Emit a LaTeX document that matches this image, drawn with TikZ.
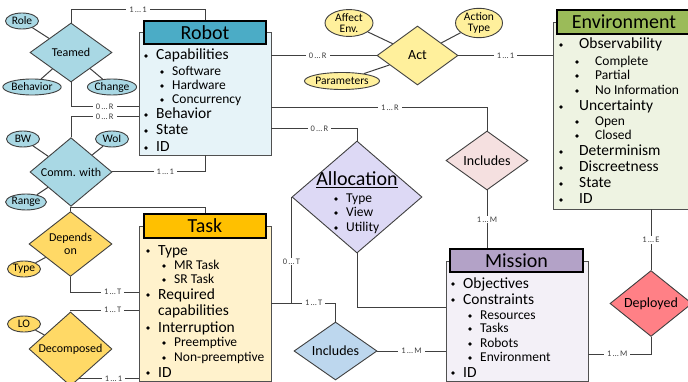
\documentclass[tikz,border=0pt]{standalone}
\usepackage{fontspec}
\setmainfont{Carlito}
\usetikzlibrary{shapes.geometric}
\definecolor{linec}{HTML}{404040}
\definecolor{bodyline}{HTML}{505050}
\definecolor{robT}{HTML}{4BACC6}
\definecolor{robB}{HTML}{E6F3F8}
\definecolor{aqua}{HTML}{A9D8E4}
\definecolor{taskT}{HTML}{FFC000}
\definecolor{taskB}{HTML}{FFF2CC}
\definecolor{gold}{HTML}{FFD966}
\definecolor{actc}{HTML}{FFF09C}
\definecolor{envT}{HTML}{9BBB59}
\definecolor{envB}{HTML}{EEF3E2}
\definecolor{allocc}{HTML}{DDD9F5}
\definecolor{pinkc}{HTML}{F5E0E0}
\definecolor{misT}{HTML}{B3A2C7}
\definecolor{misB}{HTML}{F3F0F7}
\definecolor{blueinc}{HTML}{BDD7EE}
\definecolor{deplc}{HTML}{FF8086}
\tikzset{
 conn/.style={draw=linec, line width=1pt},
 lbl/.style={fill=white, inner xsep=3pt, inner ysep=1pt, font=\fontsize{8.5}{9}\selectfont, text=linec},
 ebody/.style={draw=bodyline, line width=0.9pt, rectangle, inner sep=0},
 ettl/.style={draw=black, line width=1.6pt, rectangle, inner sep=0, font=\fontsize{20}{22}\selectfont},
 rel/.style={diamond, draw=linec, line width=0.9pt, inner sep=0, font=\fontsize{12}{13.5}\selectfont, align=center},
 relb/.style={rel, font=\fontsize{14}{15}\selectfont},
 attr/.style={ellipse, draw=linec, line width=0.9pt, inner sep=0, font=\fontsize{11.5}{12}\selectfont, align=center},
 mitem/.style={anchor=west, inner sep=0, text height=10pt, text depth=0pt, font=\fontsize{15.5}{16}\selectfont},
 sitem/.style={anchor=west, inner sep=0, text height=9pt, text depth=0pt, font=\fontsize{13.5}{14}\selectfont},
}
\newcommand\mylist[5]{% prefix, style, bullet x, text x, list
 \foreach \yy/\txt [count=\i] in {#5} {
   \fill (#3,\yy+1) circle (1.9pt);
   \node[#2] (#1\i) at (#4,\yy) {\txt};
 }}
\newcommand\card[2]{#1\,…\,#2}
\begin{document}
\begin{tikzpicture}[x=1pt,y=-1pt]
\clip (0,0) rectangle (688,382);
\fill[white] (0,0) rectangle (688,382);
% ---------- entities ----------
\node[ebody, fill=robB, minimum width=132pt, minimum height=123pt] (robotB) at (205,93.5) {};
\node[ettl, fill=robT, minimum width=122pt, minimum height=23pt] (robotT) at (205,32.5) {Robot};
\mylist{rm}{mitem}{146}{156}{55/Capabilities,114/Behavior,130/State,147/ID}
\mylist{rs}{sitem}{162}{172}{71/Software,85/Hardware,99/Concurrency}

\node[ebody, fill=taskB, minimum width=132pt, minimum height=155pt] (taskB) at (205,303.5) {};
\node[ettl, fill=taskT, minimum width=122pt, minimum height=24pt] (taskT) at (205,226) {Task};
\mylist{tm}{mitem}{148}{158}{250/Type,294/Required,327/Interruption,372/ID}
\node[mitem] (tcap) at (158,310) {capabilities};
\mylist{ts}{sitem}{164}{174}{265/MR Task,279/SR Task,342/Preemptive,357/Non-preemptive}

\node[ebody, fill=misB, minimum width=142pt, minimum height=120pt] (misB) at (517,321) {};
\node[ettl, fill=misT, minimum width=133pt, minimum height=23pt] (misT) at (516.5,260.5) {Mission};
\mylist{mm}{mitem}{453}{463}{283/Objectives,299/Constraints,372/ID}
\mylist{ms}{sitem}{470}{480}{315/Resources,328/Tasks,343/Robots,357/Environment}

\node[ebody, fill=envB, minimum width=142pt, minimum height=187pt] (envB) at (624,115.5) {};
\node[ettl, fill=envT, minimum width=134pt, minimum height=24pt] (envT) at (624,22) {Environment};
\mylist{em}{mitem}{561}{579}{44/Observability,106/Uncertainty,151/Determinism,167/Discreetness,183/State,199/ID}
\mylist{es}{sitem}{577}{595}{61/Complete,75/Partial,90/No Information,121/Open,135/Closed}

% ---------- relationships ----------
\node[rel, fill=aqua, minimum width=82pt, minimum height=59pt] (teamed) at (71,52.5) {Teamed};
\node[attr, fill=aqua, minimum width=33pt, minimum height=16pt] (role) at (22,21) {Role};
\node[attr, fill=aqua, minimum width=54pt, minimum height=16pt] (behav) at (32,87) {Behavior};
\node[attr, fill=aqua, minimum width=46pt, minimum height=16pt] (change) at (112,87) {Change};

\node[rel, fill=aqua, minimum width=82pt, minimum height=58pt] (comm) at (71,172) {Comm. with};
\node[attr, fill=aqua, minimum width=33pt, minimum height=16pt] (bw) at (23,139) {BW};
\node[attr, fill=aqua, minimum width=33pt, minimum height=16pt] (woi) at (112,139) {WoI};
\node[attr, fill=aqua, minimum width=40pt, minimum height=16pt] (range) at (26,202) {Range};

\node[rel, fill=gold, minimum width=83pt, minimum height=58pt] (depends) at (70.5,244) {Depends\\on};
\node[attr, fill=gold, minimum width=33pt, minimum height=16pt] (typeA) at (24,269) {Type};
\node[rel, fill=gold, minimum width=83pt, minimum height=58pt] (decomp) at (70.5,349) {Decomposed};
\node[attr, fill=gold, minimum width=33pt, minimum height=16pt] (lo) at (24,324) {LO};

\node[relb, fill=actc, minimum width=81pt, minimum height=59pt] (act) at (417.5,55.5) {Act};
\node[attr, fill=actc, minimum width=48pt, minimum height=26pt, font=\fontsize{11.5}{11}\selectfont] (affect) at (349,23) {Affect\\Env.};
\node[attr, fill=actc, minimum width=47pt, minimum height=26pt, font=\fontsize{11.5}{11}\selectfont] (actype) at (479,23) {Action\\Type};
\node[attr, fill=actc, minimum width=64pt, minimum height=17pt] (params) at (342,81) {Parameters};

\node[rel, fill=allocc, minimum width=130pt, minimum height=112pt] (alloc) at (357,197) {};
\node[inner sep=0, font=\fontsize{20}{22}\selectfont] (alloct) at (357,180) {\underline{Allocation}};
\mylist{am}{sitem}{336}{346}{198/Type,212/View,227/Utility}

\node[relb, fill=pinkc, minimum width=82pt, minimum height=59pt] (incP) at (487,160.5) {Includes};
\node[relb, fill=blueinc, minimum width=83pt, minimum height=58pt] (incB) at (335.5,351) {Includes};
\node[relb, fill=deplc, minimum width=82pt, minimum height=59pt] (depl) at (651,303.5) {Deployed};

% ---------- attribute links ----------
\draw[conn] (role) -- (teamed);
\draw[conn] (behav) -- (teamed);
\draw[conn] (change) -- (teamed);
\draw[conn] (bw) -- (comm);
\draw[conn] (woi) -- (comm);
\draw[conn] (range) -- (comm);
\draw[conn] (typeA) -- (depends);
\draw[conn] (lo) -- (decomp);
\draw[conn] (affect) -- (act);
\draw[conn] (actype) -- (act);
\draw[conn] (params) -- (act);

% ---------- connectors ----------
\draw[conn] (teamed.north) -- (teamed.north |- 0,10) -- node[lbl]{\card11} (robotT.north |- 0,10) -- (robotT.north);
\draw[conn] (teamed.south) -- (teamed.south |- 0,107) -- node[lbl]{\card0R} (robotB.west |- 0,107);
\draw[conn] (comm.north) -- (comm.north |- 0,117) -- node[lbl]{\card0R} (robotB.west |- 0,117);
\draw[conn] (comm.east) -- node[lbl, pos=0.57]{\card11} (comm.east -| robotB.south) -- (robotB.south);
\draw[conn] (depends.north) -- (depends.north |- 0,208) -- (taskT.north |- 0,208) -- (taskT.north);
\draw[conn] (depends.south) -- (depends.south |- 0,292) -- node[lbl, pos=0.62]{\card1T} (taskB.west |- 0,292);
\draw[conn] (decomp.north) -- (decomp.north |- 0,310) -- node[lbl, pos=0.62]{\card1T} (taskB.west |- 0,310);
\draw[conn] (decomp.-74) -- node[lbl, pos=0.58]{\card11} (decomp.-74 -| taskB.west);
\draw[conn] (robotB.east |- act.west) -- node[lbl, pos=0.44]{\card0R} (act.west);
\draw[conn] (act.east) -- node[lbl]{\card11} (act.east -| envB.west);
\draw[conn] (robotB.east |- 0,108) -- node[lbl, pos=0.55]{\card1R} (incP.north |- 0,108) -- (incP.north);
\draw[conn] (incP.south) -- node[lbl]{\card1M} (incP.south |- misT.north);
\draw[conn] (robotB.east |- 0,129) -- node[lbl, pos=0.56]{\card0R} (alloc.north |- 0,129) -- (alloc.north);
\draw[conn] (alloc.west) -- node[lbl, pos=0.61]{\card0T} (alloc.west |- 0,303);
\draw[conn] (taskB.east |- 0,303) -- node[lbl, pos=0.66]{\card1T} (incB.north |- 0,303) -- (incB.north);
\draw[conn] (alloc.south) -- (alloc.south |- 0,307) -- (misB.west |- 0,307);
\draw[conn] (incB.east) -- node[lbl]{\card1M} (incB.east -| misB.west);
\draw[conn] (depl.north |- envB.south) -- node[lbl]{\card1E} (depl.north);
\draw[conn] (depl.south) -- (depl.south |- 0,354) -- node[lbl, pos=0.54]{\card1M} (misB.east |- 0,354);
\end{tikzpicture}
\end{document}
